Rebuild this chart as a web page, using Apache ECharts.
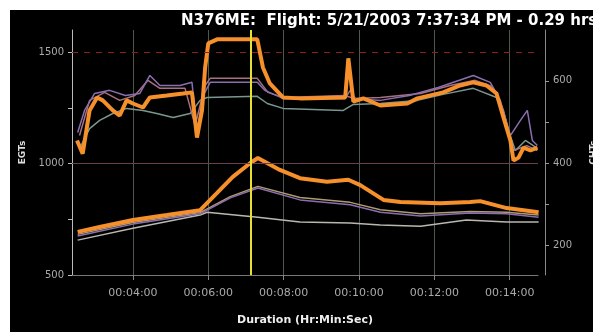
<!DOCTYPE html>
<html>
<head>
<meta charset="utf-8">
<script src="https://cdn.jsdelivr.net/npm/echarts@6/dist/echarts.min.js"></script>
<style>
  html, body { margin: 0; padding: 0; background: #fff; }
  #chart { position: absolute; left: 10px; top: 10px; width: 583px; height: 322px; background: #000; }
</style>
</head>
<body>
<div id="chart"></div>
<script>
// time in seconds from start, EGT in deg F (left axis), CHT in deg F (right axis)
const xTicks = [240, 360, 480, 600, 720, 840]
const egtTicks = [500, 750, 1000, 1250, 1500]
const egtLabels = [500, 1000, 1500]
const chtTicks = [200, 300, 400, 500, 600]
const chtLabels = [200, 400, 600]
const cursorTime = 428

const egtMain = [[151,1104],[160,1045],[171,1239],[183,1297],[192,1284],[208,1239],[219,1216],[230,1284],[240,1270],[256,1252],[267,1297],[294,1306],[320,1315],[334,1320],[342,1117],[350,1239],[355,1432],[360,1540],[374,1558],[438,1558],[447,1432],[458,1360],[479,1297],[506,1293],[578,1297],[583,1473],[591,1279],[607,1293],[634,1261],[677,1270],[693,1293],[734,1320],[761,1351],[782,1365],[803,1351],[819,1315],[830,1207],[841,1104],[846,1014],[854,1027],[862,1072],[873,1059],[884,1072]]
const egtPurple = [[152,1140],[163,1239],[179,1315],[203,1329],[228,1306],[251,1315],[267,1396],[283,1351],[315,1351],[334,1365],[342,1149],[352,1306],[363,1365],[438,1365],[450,1329],[479,1293],[578,1293],[586,1329],[594,1293],[634,1284],[680,1306],[726,1342],[782,1396],[809,1365],[825,1284],[841,1126],[857,1194],[868,1239],[876,1104],[884,1081]]
const egtMauve = [[155,1126],[171,1284],[195,1320],[219,1284],[243,1306],[264,1374],[283,1338],[323,1338],[339,1171],[355,1351],[363,1383],[438,1383],[455,1320],[479,1297],[578,1306],[591,1293],[634,1297],[698,1315],[745,1351],[785,1374],[812,1347],[830,1239],[846,1059],[867,1081],[884,1059]]
const egtTeal = [[155,1068],[171,1157],[187,1194],[208,1225],[230,1248],[256,1239],[278,1225],[304,1207],[331,1225],[347,1284],[358,1297],[438,1302],[454,1270],[479,1248],[575,1239],[591,1266],[634,1270],[693,1284],[734,1311],[782,1338],[819,1297],[835,1171],[849,1059],[865,1104],[884,1068]]

const chtMain = [[152,232],[187,244],[240,261],[294,273],[347,285],[374,327],[399,366],[427,400],[439,412],[474,383],[506,363],[549,354],[583,359],[602,346],[639,310],[666,305],[729,302],[777,305],[793,307],[835,290],[886,280]]
const chtPurple = [[152,222],[240,251],[347,276],[395,315],[439,339],[506,310],[586,298],[634,280],[698,271],[777,278],[835,276],[886,268]]
const chtKhaki = [[152,226],[240,255],[347,279],[395,318],[439,343],[506,316],[586,304],[634,286],[698,276],[777,282],[835,280],[886,273]]
const chtGrey = [[152,212],[240,241],[347,273],[358,280],[439,268],[506,256],[586,254],[634,249],[698,246],[771,261],[835,256],[886,256]]

const FONT = 'DejaVu Sans'

function hms(s) {
  const h = Math.floor(s / 3600), m = Math.floor((s % 3600) / 60), sec = s % 60
  const p = (n) => String(n).padStart(2, '0')
  return p(h) + ':' + p(m) + ':' + p(sec)
}

function line(data, color, width, yAxisIndex, z) {
  return { type: 'line', data, yAxisIndex, symbol: 'none', z: z || 2,
    lineStyle: { color, width }, animation: false }
}

const chart = echarts.init(document.getElementById('chart'), null, { renderer: 'canvas' })
chart.setOption({
  backgroundColor: '#000',
  animation: false,
  title: {
    text: 'N376ME:  Flight: 5/21/2003 7:37:34 PM - 0.29 hrs',
    left: 166, top: -1,
    textStyle: { color: '#fff', fontSize: 15, fontWeight: 'bold', fontFamily: FONT },
  },
  grid: { left: 62, right: 55, top: 20, bottom: 57, outerBoundsMode: 'none', containLabel: false },
  xAxis: {
    type: 'value', min: 143, max: 885,
    name: 'Duration (Hr:Min:Sec)', nameLocation: 'middle', nameGap: 40,
    nameTextStyle: { color: '#eee', fontSize: 11, fontWeight: 'bold', fontFamily: FONT },
    axisLine: { lineStyle: { color: '#777' } },
    axisTick: { customValues: xTicks, length: 5, lineStyle: { color: '#888' } },
    axisLabel: { customValues: xTicks, color: '#aaa', fontSize: 11, margin: 13, formatter: hms, fontFamily: FONT },
    splitLine: { show: true, lineStyle: { color: '#4b5a4b', width: 1 } },
  },
  yAxis: [
    {
      type: 'value', min: 500, max: 1600, position: 'left',
      name: 'EGTs', nameLocation: 'middle', nameGap: 44,
      nameTextStyle: { color: '#ddd', fontSize: 9, fontWeight: 'bold', fontFamily: FONT },
      axisLine: { show: true, lineStyle: { color: '#bbb' } },
      axisTick: { show: true, customValues: egtTicks, length: 4, lineStyle: { color: '#bbb' } },
      axisLabel: { customValues: egtLabels, color: '#aaa', fontSize: 10, fontFamily: FONT, formatter: (v) => String(v) },
      splitLine: { show: false },
    },
    {
      type: 'value', min: 127, max: 724, position: 'right', offset: 7,
      name: 'CHTs', nameLocation: 'middle', nameGap: 44,
      nameTextStyle: { color: '#ddd', fontSize: 9, fontWeight: 'bold', fontFamily: FONT },
      axisLine: { show: true, lineStyle: { color: '#888' } },
      axisTick: { show: true, customValues: chtTicks, length: 4, lineStyle: { color: '#999' } },
      axisLabel: { customValues: chtLabels, color: '#aaa', fontSize: 10, fontFamily: FONT, formatter: (v) => String(v) },
      splitLine: { show: false },
    },
  ],
  series: [
    {
      type: 'line', data: [], yAxisIndex: 0,
      markLine: {
        silent: true, symbol: 'none', label: { show: false },
        data: [
          { yAxis: 1500, lineStyle: { color: '#8a2020', type: [6, 6], width: 1 } },
          { yAxis: 1000, lineStyle: { color: '#6a4050', type: 'solid', width: 1 } },
          { xAxis: cursorTime, lineStyle: { color: '#e6e030', type: 'solid', width: 2 } },
        ],
      },
    },
    line(egtTeal, '#7a9690', 1.5, 0),
    line(egtMauve, '#a87080', 1.5, 0),
    line(egtPurple, '#8a6fb0', 1.5, 0),
    line(egtMain, '#f5902a', 4, 0, 3),
    line(chtGrey, '#b8b8b0', 1.5, 1),
    line(chtKhaki, '#b09a70', 1.5, 1),
    line(chtPurple, '#8a6fb0', 1.5, 1),
    line(chtMain, '#f5902a', 4, 1, 3),
  ],
})
</script>
</body>
</html>
